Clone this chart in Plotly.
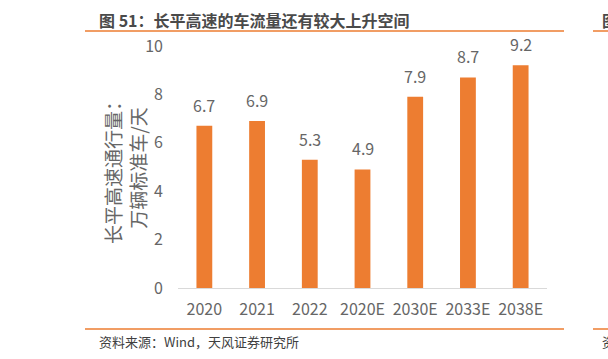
import plotly.graph_objects as go

categories = ["2020", "2021", "2022", "2020E", "2030E", "2033E", "2038E"]
values = [6.7, 6.9, 5.3, 4.9, 7.9, 8.7, 9.2]
value_labels = ["6.7", "6.9", "5.3", "4.9", "7.9", "8.7", "9.2"]
y_ticks = [0, 2, 4, 6, 8, 10]

title_text = "图 51：长平高速的车流量还有较大上升空间"
source_text = "资料来源：Wind，天风证券研究所"
ytitle_text = "长平高速通行量：<br>万辆标准车/天"

W, H = 608, 359
L, R, T, B = 178, 547, 46, 288  # plot area in pixels

def px_x(p):
    return (p - L) / (R - L)

def px_y(p):
    return (B - p) / (B - T)

CJK = "Noto Sans CJK SC"
GRAY = "#666666"
ORANGE = "#ED7D31"

fig = go.Figure(go.Bar(
    x=categories, y=values,
    marker=dict(color=ORANGE, line=dict(width=0)),
    cliponaxis=False,
))

# value labels above bars (x given as category index on the category axis)
for i, (v, s) in enumerate(zip(values, value_labels)):
    fig.add_annotation(x=i, y=v, text=s, showarrow=False, yanchor="middle",
                       yshift=21, font=dict(family=CJK, size=16, color=GRAY))

fig.update_layout(
    width=W, height=H,
    margin=dict(l=L, r=W - R, t=T, b=H - B, pad=0),
    paper_bgcolor="white", plot_bgcolor="white",
    bargap=0.70, showlegend=False,
    font=dict(family=CJK, color=GRAY),
)
fig.update_xaxes(
    type="category", categoryorder="array", categoryarray=categories,
    range=[-0.5, len(categories) - 0.5],
    showgrid=False, showline=True, linecolor="#D9D9D9", linewidth=1,
    ticks="", tickfont=dict(family=CJK, size=16, color=GRAY),
    ticklabelstandoff=7,
)
fig.update_yaxes(
    range=[0, 10], tickvals=y_ticks, showgrid=False, zeroline=False,
    showline=False, ticks="", tickfont=dict(family=CJK, size=16, color=GRAY),
    ticklabelstandoff=14,
)

# header / footer lines
for yp in (31, 329):
    fig.add_shape(type="line", xref="paper", yref="paper",
                  x0=px_x(85), x1=px_x(564), y0=px_y(yp), y1=px_y(yp),
                  line=dict(color=ORANGE, width=1.5))
    fig.add_shape(type="line", xref="paper", yref="paper",
                  x0=px_x(593), x1=px_x(612), y0=px_y(yp), y1=px_y(yp),
                  line=dict(color=ORANGE, width=1.5))

fig.add_annotation(text="<b>" + title_text + "</b>", xref="paper", yref="paper",
                   x=px_x(97), y=px_y(20), xanchor="left", yanchor="middle",
                   showarrow=False, font=dict(family=CJK, size=16, color="#4a4a4a"))
fig.add_annotation(text=source_text, xref="paper", yref="paper",
                   x=px_x(97), y=px_y(341), xanchor="left", yanchor="middle",
                   showarrow=False, font=dict(family=CJK, size=13, color="#404040"))
fig.add_annotation(text=ytitle_text, xref="paper", yref="paper",
                   x=px_x(125), y=px_y(168), xanchor="center", yanchor="middle",
                   textangle=-90, showarrow=False,
                   font=dict(family=CJK, size=19, color=GRAY))
# partial glyphs of the neighbouring chart at the right edge (cut off in the reference too)
fig.add_annotation(text="<b>图</b>", xref="paper", yref="paper",
                   x=px_x(600), y=px_y(20), xanchor="left", yanchor="middle",
                   showarrow=False, font=dict(family=CJK, size=16, color="#4a4a4a"))
fig.add_annotation(text="资", xref="paper", yref="paper",
                   x=px_x(600), y=px_y(341), xanchor="left", yanchor="middle",
                   showarrow=False, font=dict(family=CJK, size=13, color="#404040"))

fig.write_html("out.html")
